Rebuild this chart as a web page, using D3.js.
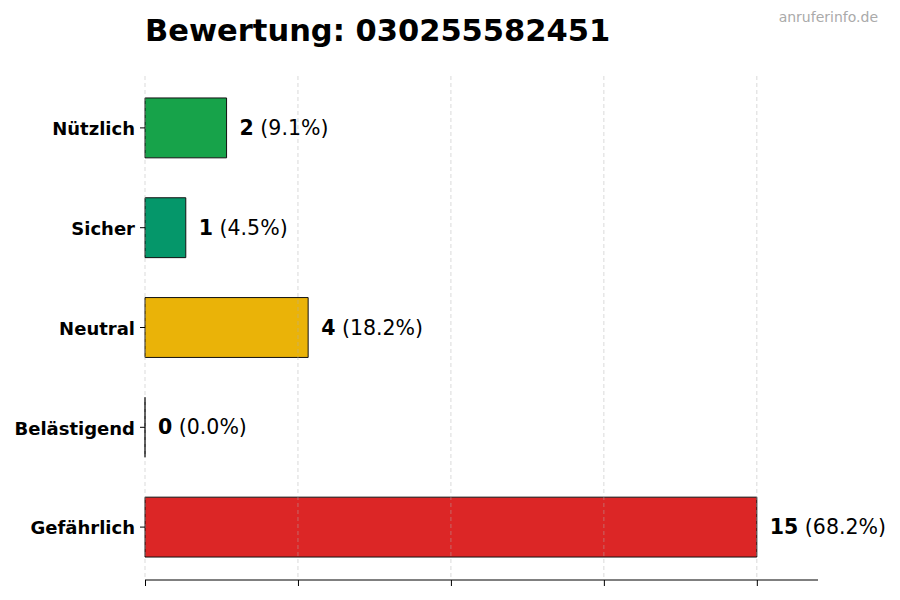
<!DOCTYPE html>
<html>
<head>
<meta charset="utf-8">
<script src="https://cdn.jsdelivr.net/npm/d3@7"></script>
<style>
  body { margin: 0; background: #fff; }
  text { font-family: "DejaVu Sans", sans-serif; }
</style>
</head>
<body>
<svg id="chart" width="900" height="600"></svg>
<script>
// ratings, top to bottom
var categories = ["Nützlich", "Sicher", "Neutral", "Belästigend", "Gefährlich"];
var counts = [2, 1, 4, 0, 15];
var colors = ["#17a34a", "#05976a", "#eab308", "#ea580c", "#dc2626"];
var ticks = [0, 3.75, 7.5, 11.25, 15];

var svg = d3.select("#chart");
var total = d3.sum(counts);

var x = d3.scaleLinear().domain([0, 16.5]).range([145, 818]);
var y = d3.scaleBand().domain(categories).range([78, 577])
    .paddingInner(0.4).paddingOuter(0.2);

svg.append("text")
    .attr("x", 145).attr("y", 41)
    .style("font-size", "30.5px").style("font-weight", "bold")
    .text("Bewertung: 030255582451");

svg.append("text")
    .attr("x", 878).attr("y", 22)
    .attr("text-anchor", "end")
    .style("font-size", "14px").style("fill", "#aaaaaa")
    .text("anruferinfo.de");

var data = categories.map(function(c, i) {
    return {name: c, value: counts[i], color: colors[i]};
});

// bars as paths so a zero bar still shows its edge
svg.append("g").selectAll("path")
    .data(data)
    .enter()
    .append("path")
    .attr("d", function(d) {
        var x0 = x(0), x1 = x(d.value), y0 = y(d.name), y1 = y0 + y.bandwidth();
        return "M" + x0 + "," + y0 + "H" + x1 + "V" + y1 + "H" + x0 + "Z";
    })
    .attr("fill", d => d.color)
    .attr("stroke", "#111")
    .attr("stroke-width", 1);

// grid on top of bars
svg.append("g").selectAll("line")
    .data(ticks)
    .enter()
    .append("line")
    .attr("x1", d => x(d)).attr("x2", d => x(d))
    .attr("y1", 76).attr("y2", 580)
    .attr("stroke", "#b0b0b0")
    .attr("stroke-opacity", 0.6)
    .attr("stroke-dasharray", "4,3")
    .attr("stroke-width", 0.8);

var xAxis = svg.append("g")
    .attr("transform", "translate(0,580)")
    .call(d3.axisBottom(x).tickValues(ticks).tickSize(6).tickFormat(""));
xAxis.select(".domain").attr("stroke", "#000").attr("d", "M145,0H818");

var yAxis = svg.append("g")
    .attr("transform", "translate(145,0)")
    .call(d3.axisLeft(y).tickSize(5).tickPadding(5));
yAxis.select(".domain").remove();
yAxis.selectAll("text")
    .attr("dy", "0.4em")
    .style("font-size", "18px").style("font-weight", "bold")
    .style("font-family", "'DejaVu Sans', sans-serif")
    .attr("fill", "#000");

var labels = svg.append("g").selectAll("text")
    .data(data)
    .enter()
    .append("text")
    .attr("x", d => x(d.value) + 13)
    .attr("y", d => y(d.name) + y.bandwidth() / 2)
    .attr("dy", "0.35em")
    .style("font-size", "20.5px");
labels.append("tspan").style("font-weight", "bold").text(d => d.value);
labels.append("tspan").text(d => " (" + (d.value / total * 100).toFixed(1) + "%)");
</script>
</body>
</html>
